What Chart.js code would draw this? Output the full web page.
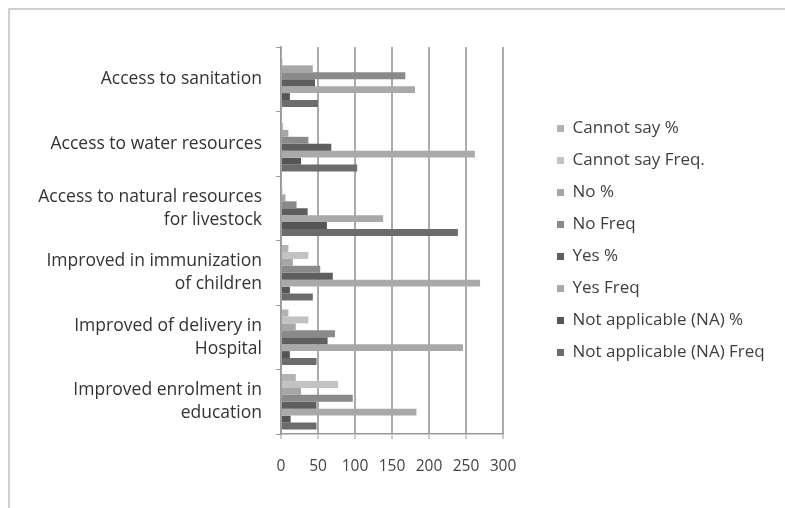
<!DOCTYPE html>
<html>
<head>
<meta charset="utf-8">
<script src="https://cdn.jsdelivr.net/npm/chart.js@4.4.0/dist/chart.umd.min.js"></script>
<style>
  html, body { margin: 0; padding: 0; background: #fff; overflow: hidden; }
  #wrap { position: relative; width: 785px; height: 508px; overflow: hidden; }
  #frame { position: absolute; left: 8px; top: 8px; width: 790px; height: 510px;
           border-top: 2px solid #cfcfcf; border-left: 2px solid #cfcfcf; }
  canvas { position: absolute; left: 0; top: 0; }
</style>
</head>
<body>
<div id="wrap">
  <div id="frame"></div>
  <canvas id="chart" width="785" height="508"></canvas>
</div>
<script>
// categories, top to bottom
var categories = [
  'Access to sanitation',
  'Access to water resources',
  ['Access to natural resources', 'for livestock'],
  ['Improved in immunization', 'of children'],
  ['Improved of delivery in', 'Hospital'],
  ['Improved enrolment in', 'education']
];

// series values
var cannotSayPct  = [0.5, 1, 1, 10, 10, 20];
var cannotSayFreq = [2, 3, 2, 37, 37, 77];
var noPct         = [43, 10, 6, 16, 20, 27];
var noFreq        = [168, 37, 21, 53, 73, 97];
var yesPct        = [46, 68, 36, 70, 63, 48];
var yesFreq       = [181, 262, 138, 269, 246, 183];
var naPct         = [12, 27, 62, 12, 12, 13];
var naFreq        = [50, 103, 239, 43, 48, 48];

// x axis tick labels
var xTicks = [0, 50, 100, 150, 200, 250, 300];

var seriesNames = ['Cannot say %', 'Cannot say Freq.', 'No %', 'No Freq', 'Yes %', 'Yes Freq',
                   'Not applicable (NA) %', 'Not applicable (NA) Freq'];
var seriesData = [cannotSayPct, cannotSayFreq, noPct, noFreq, yesPct, yesFreq, naPct, naFreq];
var seriesColors = ['#b3b3b3', '#c2c2c2', '#a6a6a6', '#8a8a8a', '#5e5e5e', '#a9a9a9', '#555555', '#6c6c6c'];

var fontFamily = "'Open Sans', sans-serif";
var legendSize = 17;
var legendPad = 15;
var legendBox = 7;

// work out right padding so the legend sits where it should
var m = document.createElement('canvas').getContext('2d');
m.font = legendSize + 'px ' + fontFamily;
var widest = 0;
seriesNames.forEach(function (s) { widest = Math.max(widest, m.measureText(s).width); });
var legendLeft = 557 - legendPad;
var legendW = legendPad + legendBox + legendSize / 2 + widest + 10;
var padRight = Math.max(0, 785 - legendLeft - legendW);
var plotRight = 503;

var datasets = seriesNames.map(function (name, i) {
  return { label: name, data: seriesData[i], backgroundColor: seriesColors[i] };
});

var ctx = document.getElementById('chart').getContext('2d');
var myChart = new Chart(ctx, {
  type: 'bar',
  data: { labels: categories, datasets: datasets },
  options: {
    responsive: false,
    animation: false,
    indexAxis: 'y',
    layout: { padding: { top: 47, right: padRight, bottom: 0, left: 0 } },
    datasets: { bar: { categoryPercentage: 0.86, barPercentage: 1, borderWidth: 0 } },
    scales: {
      x: {
        min: xTicks[0],
        max: xTicks[xTicks.length - 1],
        ticks: { stepSize: xTicks[1] - xTicks[0], color: '#444', padding: 18,
                 font: { family: fontFamily, size: 15.5 } },
        grid: { color: '#ababab', lineWidth: 2, tickLength: 5, tickColor: '#999', tickWidth: 1 },
        border: { color: '#999', width: 1.5 },
        afterFit: function (s) { s.height = 74; }
      },
      y: {
        ticks: { color: '#333', padding: 14, autoSkip: false,
                 font: { family: fontFamily, size: 17.5, lineHeight: 1.32 } },
        grid: { offset: true, drawOnChartArea: false, tickLength: 5, color: '#999' },
        border: { color: '#999', width: 1.5 },
        afterFit: function (s) { s.width = 281; }
      },
      // empty axis, only keeps a gap between the plot and the legend
      gap: {
        type: 'category', axis: 'y', position: 'right',
        grid: { display: false }, ticks: { display: false }, border: { display: false },
        afterFit: function (s) { s.width = legendLeft - plotRight; }
      }
    },
    plugins: {
      legend: {
        position: 'right',
        fullSize: false,
        maxWidth: 400,
        labels: { boxWidth: legendBox, boxHeight: legendBox, padding: legendPad, color: '#404040',
                  font: { family: fontFamily, size: legendSize } }
      },
      tooltip: { enabled: false }
    }
  }
});
</script>
</body>
</html>
